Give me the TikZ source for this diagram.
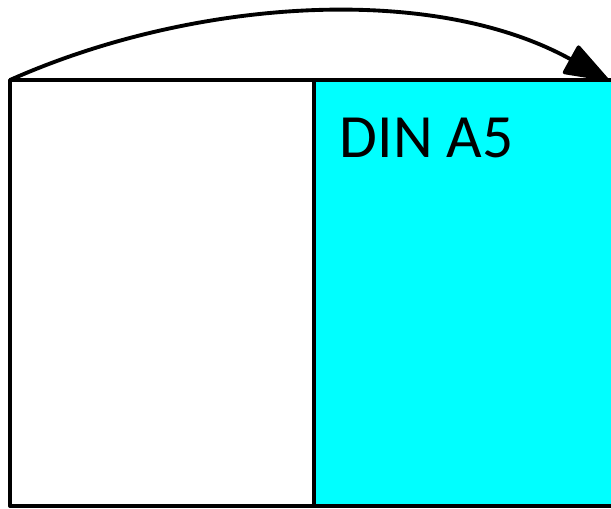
\documentclass[tikz,border=0pt]{standalone}
\usepackage{fontspec}
\setmainfont{Carlito}
\usetikzlibrary{arrows.meta}
\definecolor{sheetcyan}{RGB}{0,255,255}
\begin{document}
\begin{tikzpicture}[x=0.02cm, y=0.02cm, line width=2.2pt, line join=round, line cap=round,
  >={Triangle[length=0.95cm,width=0.66cm,round]}]
  \def\xl{10} \def\xm{314} \def\xr{616} \def\yb{2} \def\yt{428}
  \useasboundingbox (0,0) rectangle (611,508);
  \clip (0,0) rectangle (611,508);
  % sheet: left half white, right half cyan
  \fill[sheetcyan] (\xm,\yb) rectangle (\xr,\yt);
  \draw (\xr,\yb) -- (\xl,\yb) -- (\xl,\yt) -- (\xr,\yt);
  \draw (\xm,\yb) -- (\xm,\yt);
  % folding arrow
  \coordinate (start) at (\xl,\yt);
  \coordinate (end) at (608,\yt);
  \draw[->] (start) to[out=24,in=151,looseness=0.86] (end);
  \node[anchor=base west, inner sep=0pt, font=\fontsize{35}{42}\selectfont] (label) at (338,351) {DIN A5};
\end{tikzpicture}
\end{document}
